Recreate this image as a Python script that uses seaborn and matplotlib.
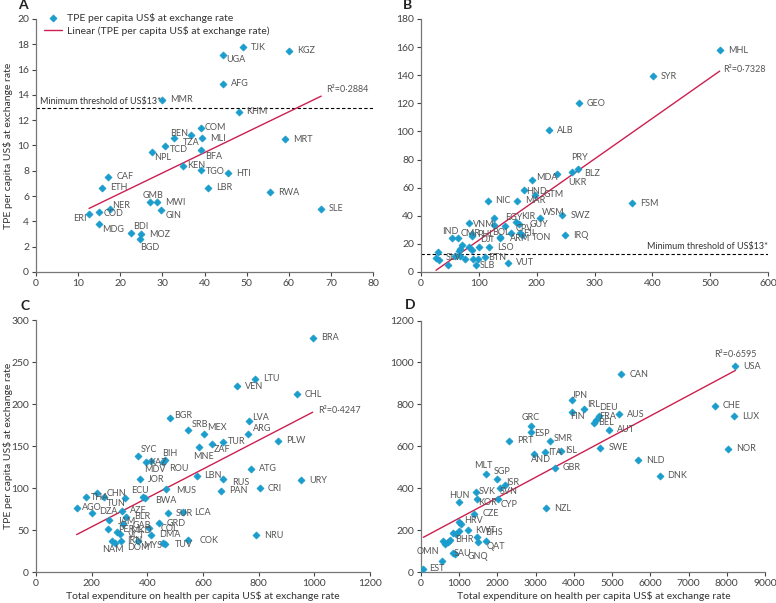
import numpy as np
import pandas as pd
import matplotlib
matplotlib.use("Agg")
import matplotlib.pyplot as plt
import seaborn as sns

# panel A: low-income countries
a_codes = ["TJK", "KGZ", "UGA", "AFG", "MMR", "KHM", "COM", "BEN", "TZA", "MLI",
           "MRT", "NPL", "TCD", "BFA", "KEN", "TGO", "HTI", "CAF", "ETH", "LBR",
           "RWA", "GMB", "MWI", "GIN", "SLE", "NER", "COD", "ERI", "MDG", "BDI",
           "MOZ", "BGD"]
a_the = [49.2, 60.1, 44.3, 44.3, 30.0, 48.1, 39.1, 32.8, 36.8, 39.5,
         59.1, 27.6, 30.7, 39.2, 34.8, 39.2, 45.6, 17.2, 15.65, 40.9,
         55.5, 27.0, 28.7, 29.6, 67.7, 17.5, 14.9, 12.6, 15.0, 22.5,
         24.9, 24.8]
a_tpe = [17.75, 17.5, 17.14, 14.87, 13.6, 12.67, 11.38, 10.58, 10.82, 10.58,
         10.5, 9.47, 9.95, 9.63, 8.34, 8.08, 7.79, 7.53, 6.66, 6.66,
         6.32, 5.5, 5.5, 4.89, 5.0, 5.0, 4.71, 4.55, 3.79, 3.1,
         3.0, 2.6]

# panel B: lower-middle-income countries
b_codes = ["MHL", "SYR", "GEO", "ALB", "PRY", "BLZ", "UKR", "MDA", "HND", "GTM",
           "NIC", "MAR", "FSM", "WSM", "SWZ", "VNM", "EGY", "KIR", "GUY", "",
           "CPV", "CMR", "", "IND", "", "PHL", "BOL", "ARM", "FJI", "TON",
           "IRQ", "", "", "", "", "SLV", "", "", "", "",
           "", "", "", "", "", "DJI", "LSO", "BTN", "SLB", "VUT"]
b_the = [516.5, 400.8, 272.4, 220.5, 260.8, 272.3, 235, 191.7, 177.3, 197.5,
         115, 166, 365.6, 205, 244.6, 83.5, 126, 163.5, 169, 127,
         146, 89, 88, 52.8, 63.2, 136, 137, 155, 172, 175,
         248.7, 29.6, 26, 31.3, 46.4, 59, 66, 67.8, 70.7, 82.3,
         67.8, 75.4, 88, 90, 98, 100, 118, 111, 94.5, 151]
b_tpe = [157.6, 139.3, 120, 100.7, 71.2, 73.1, 69.6, 65.6, 58.2, 54.9,
         50.6, 50.8, 48.8, 38.6, 40.5, 35.2, 38.6, 35.7, 34.2, 33.3,
         32.8, 27, 25.5, 24.1, 24.1, 24.3, 25.2, 27.5, 27.5, 26.3,
         26, 14, 9.9, 8.7, 5.3, 11.6, 14.7, 16.4, 19.3, 17.6,
         11.6, 8.9, 15.9, 9.6, 9.6, 17.6, 17.6, 10.4, 5.1, 6.7]

# panel C: upper-middle-income countries
c_codes = ["BRA", "LTU", "VEN", "CHL", "BGR", "LVA", "SRB", "MEX", "ARG", "TUR",
           "ZAF", "PLW", "MNE", "SYC", "MDV", "KAZ", "ROU", "BIH", "JOR", "LBN",
           "RUS", "ATG", "URY", "CRI", "PAN", "MUS", "ECU", "BWA", "THA", "",
           "CHN", "TUN", "AGO", "DZA", "AZE", "BLR", "JAM", "GAB", "PER", "MKD",
           "VCT", "IRN", "", "NAM", "DOM", "COL", "DMA", "GRD", "TUV", "MYS",
           "SUR", "LCA", "COK", "NRU"]
c_the = [994, 785.6, 723, 936.5, 480, 764, 547, 605, 760.5, 672,
         632, 869.5, 584.4, 367.6, 394, 413, 455, 463.5, 373.7, 577,
         673, 773.6, 952, 804.8, 663.5, 466, 385.6, 390, 179.6, 220,
         244, 320, 146, 200, 309, 323.4, 261, 311.5, 260, 292,
         301.8, 304, 272, 284, 367.6, 407, 412, 442, 463.5, 458,
         473, 529, 547, 790]
c_tpe = [278.6, 230.4, 221.3, 211.8, 183.7, 180, 169.4, 164.7, 165, 155.2,
         152, 156.7, 148.8, 138.8, 131.6, 132.5, 131.6, 134, 110.7, 114.6,
         110.7, 123, 109.4, 99.9, 97.1, 99.1, 89.2, 87.8, 89.2, 94.7,
         90, 88.8, 76.9, 70.2, 73.3, 66.2, 62.2, 57.5, 51.2, 48.3,
         45.2, 37.6, 37.6, 34.5, 37.6, 52.4, 44.4, 58.3, 33.7, 34.8,
         70.2, 71.4, 38.4, 44.2]

# panel D: high-income countries
d_codes = ["USA", "CAN", "CHE", "LUX", "JPN", "IRL", "FIN", "DEU", "FRA", "BEL",
           "AUT", "AUS", "GRC", "ESP", "PRT", "SMR", "NOR", "SWE", "ISL", "ITA",
           "AND", "NLD", "GBR", "DNK", "MLT", "SGP", "ISR", "SVN", "SVK", "KOR",
           "CYP", "HUN", "NZL", "CZE", "HRV", "", "KWT", "", "", "BHR",
           "BHS", "QAT", "", "", "", "", "", "SAU", "GNQ", "OMN", "EST"]
d_the = [8226, 5243, 7687, 8191, 3957, 4252, 3957, 4652, 4583, 4539,
         4930, 5174, 2878, 2887, 2304, 3383, 8035, 4696, 3661, 3243,
         2948, 5670, 3496, 6243, 1696, 1991, 2200, 2061, 1426, 1470,
         2026, 1000, 3270, 1391, 983, 1043, 1217, 983, 843, 904,
         1478, 1487, 1713, 583, 635, 713, 757, 826, 900, 557, 61]
d_tpe = [981, 943, 793, 744, 820, 779, 764, 744, 725, 712,
         680, 753, 696, 669, 626, 624, 589, 594, 578, 575,
         563, 533, 498, 460, 470, 446, 417, 401, 385, 350,
         347, 337, 306, 279, 239, 231, 201, 197, 189, 181,
         166, 143, 150, 150, 134, 146, 154, 91, 88, 56, 16]

r2_text = ["R²=0·2884", "R²=0·7328", "R²=0·4247", "R²=0·6595"]
threshold = 13

# label offsets in pixels (dx, dy, ha); default is to the right of the point
a_off = {"UGA": (4, -4, "left"), "BEN": (5, 5, "center"), "TZA": (0, -7, "center"),
         "COM": (4, 1, "left"), "TCD": (5, -3, "left"), "NPL": (2, -5, "left"),
         "BFA": (4, -6, "left"), "KEN": (5, 1, "left"), "TGO": (5, -2, "left"),
         "GMB": (3, 7, "center"), "GIN": (5, -5, "left"), "NER": (2, 3, "left"),
         "COD": (5, -1, "left"), "ERI": (-2, -4, "right"), "MDG": (3, -5, "left"),
         "BDI": (2, 6, "left"), "BGD": (0, -8, "left")}
b_off = {"PRY": (-1, 14, "left"), "BLZ": (6, -4, "left"), "UKR": (11, -8, "left"),
         "MDA": (4, 2, "left"), "HND": (3, -1, "left"), "WSM": (2, 5, "left"),
         "VNM": (4, -2, "left"), "EGY": (11, 0, "left"), "KIR": (6, 5, "left"),
         "GUY": (11, -1, "left"), "CPV": (10, -3, "left"), "IND": (-1, 7, "center"),
         "CMR": (-2, 1, "center"), "PHL": (-6, 3, "right"), "BOL": (1, 4, "center"),
         "ARM": (-1, -5, "left"), "FJI": (3, 0, "left"), "TON": (10, -2, "left"),
         "DJI": (1, 8, "left"), "SLV": (-2, -2, "center"), "BTN": (3, 0, "left"),
         "SLB": (4, -1, "left")}
c_off = {"BGR": (5, 2, "left"), "SRB": (3, 5, "left"), "MEX": (3, 6, "left"),
         "LVA": (3, 3, "left"), "ARG": (5, 5, "left"), "TUR": (5, 0, "left"),
         "ZAF": (2, -5, "left"), "MNE": (5, -9, "center"), "SYC": (2, 6, "left"),
         "BIH": (-3, 6, "left"), "KAZ": (-2, -2, "left"), "MDV": (-2, -8, "left"),
         "ROU": (6, -7, "left"), "RUS": (9, -3, "left"), "MUS": (10, -2, "left"),
         "ECU": (-3, 7, "center"), "BWA": (11, -2, "left"), "THA": (5, 0, "left"),
         "CHN": (3, 3, "left"), "TUN": (-9, -6, "center"), "AGO": (5, 0, "left"),
         "DZA": (7, 2, "left"), "JAM": (9, -2, "left"), "GAB": (10, -2, "left"),
         "MKD": (13, 1, "left"), "VCT": (8, -1, "left"), "IRN": (7, 0, "left"),
         "DOM": (0, -7, "center"), "MYS": (-1, -2, "right"), "TUV": (10, -1, "left"),
         "NAM": (-2, -6, "center"), "COL": (11, 0, "left"), "LCA": (11, 0, "left"),
         "COK": (11, 0, "left"), "PER": (10, 0, "left")}
d_off = {"JPN": (0, 5, "left"), "IRL": (4, 4, "left"), "FIN": (-2, -5, "left"),
         "DEU": (0, 9, "left"), "FRA": (3, 4, "left"), "BEL": (4, 0, "left"),
         "GRC": (0, 9, "center"), "ESP": (3, -2, "left"), "SMR": (3, 3, "left"),
         "ISL": (4, 1, "left"), "ITA": (3, -1, "left"), "AND": (-3, -5, "left"),
         "MLT": (-3, 8, "center"), "SGP": (-3, 7, "left"), "ISR": (1, 2, "left"),
         "SVN": (0, -3, "left"), "SVK": (3, 0, "left"), "KOR": (1, -4, "left"),
         "CYP": (2, -5, "left"), "HUN": (0, 6, "center"), "HRV": (6, 2, "left"),
         "BHS": (8, 5, "left"), "QAT": (9, -4, "left"), "BHR": (0, -5, "left"),
         "OMN": (-3, 9, "right"), "SAU": (1, 0, "left"), "GNQ": (12, -3, "left"),
         "EST": (6, 0, "left")}

BLUE = "#1a9dcc"
RED = "#cc1f4f"
GREY = "#555555"

sns.set_theme(style="ticks")
plt.rcParams["font.family"] = ["Liberation Sans Narrow", "Lato", "DejaVu Sans"]

fig = plt.figure(figsize=(7.76, 6.03), dpi=100)
W, H = 776, 603
boxes = [(36, 19, 373, 272), (421, 19, 768, 272), (36, 320, 370, 572.3), (421, 320.5, 765, 572.3)]
axes = [fig.add_axes([l / W, 1 - b / H, (r - l) / W, (b - t) / H]) for l, t, r, b in boxes]

panels = [
    (a_codes, a_the, a_tpe, a_off, 80, 10, 20, 2),
    (b_codes, b_the, b_tpe, b_off, 600, 100, 180, 20),
    (c_codes, c_the, c_tpe, c_off, 1200, 200, 300, 50),
    (d_codes, d_the, d_tpe, d_off, 9000, 1000, 1200, 200),
]
r2_pos = [(68.8, 14.4), (522, 144), (1013, 192), (7670, 1038)]

for i, (ax, (codes, xs, ys, offs, xmax, xstep, ymax, ystep)) in enumerate(zip(axes, panels)):
    df = pd.DataFrame({"the": xs, "tpe": ys, "code": codes})
    sns.regplot(data=df, x="the", y="tpe", ax=ax, scatter=False, ci=None,
                line_kws={"color": RED, "lw": 1.0},
                label="Linear (TPE per capita US$ at exchange rate)")
    sns.scatterplot(data=df, x="the", y="tpe", ax=ax, marker="D", s=13, color=BLUE,
                    edgecolor=BLUE, linewidth=0.5, zorder=3,
                    label="TPE per capita US$ at exchange rate")
    for x, y, c in zip(xs, ys, codes):
        if not c:
            continue
        dx, dy, ha = offs.get(c, (8, 0, "left"))
        ax.annotate(c, (x, y), xytext=(dx * 0.72, dy * 0.72), textcoords="offset points",
                    ha=ha, va="center", fontsize=6.5, color=GREY, zorder=4)
    ax.text(*r2_pos[i], r2_text[i], fontsize=6.5, color=GREY, ha="left", va="center")
    ax.set_xlim(0, xmax)
    ax.set_ylim(0, ymax)
    ax.set_xticks(np.arange(0, xmax + 1, xstep))
    ax.set_yticks(np.arange(0, ymax + 1, ystep))
    ax.set_xlabel("")
    ax.set_ylabel("")
    ax.tick_params(labelsize=7.5, colors="#444444", length=3, width=0.8, pad=2)
    for s in ["left", "bottom"]:
        ax.spines[s].set_color("#777777")
        ax.spines[s].set_linewidth(0.9)
    sns.despine(ax=ax)
    if i == 0:
        h, l = ax.get_legend_handles_labels()
        ax.legend(h[::-1], l[::-1], loc="upper left", bbox_to_anchor=(-0.005, 1.06),
                  frameon=False, fontsize=7.5, handlelength=1.8, handletextpad=0.4,
                  labelspacing=0.25, labelcolor="#333333")
    else:
        ax.get_legend().remove()

# minimum threshold lines
for ax in axes[:2]:
    ax.axhline(threshold, color="black", lw=0.8, ls=(0, (3, 2)), zorder=1)
axes[0].text(1, 13.45, "Minimum threshold of US$13*", fontsize=6.5, color="#333333",
             ha="left", va="center")
axes[1].text(600, 18.3, "Minimum threshold of US$13*", fontsize=6.5, color="#333333",
             ha="right", va="center")

for letter, (x, y) in zip("ABCD", [(23, 5), (407, 5), (25, 306), (410, 305)]):
    fig.text(x / W, 1 - y / H, letter, fontsize=10, fontweight="bold", color="#222222",
             ha="center", va="center")

ylab = "TPE per capita US$ at exchange rate"
xlab = "Total expenditure on health per capita US$ at exchange rate"
fig.text(8 / W, 1 - 145.5 / H, ylab, rotation=90, fontsize=7.5, color="#333333", ha="center", va="center")
fig.text(8 / W, 1 - 446 / H, ylab, rotation=90, fontsize=7.5, color="#333333", ha="center", va="center")
fig.text(203 / W, 1 - 596 / H, xlab, fontsize=7.5, color="#333333", ha="center", va="center")
fig.text(593.5 / W, 1 - 596 / H, xlab, fontsize=7.5, color="#333333", ha="center", va="center")

fig.savefig("out.png", dpi=100)
